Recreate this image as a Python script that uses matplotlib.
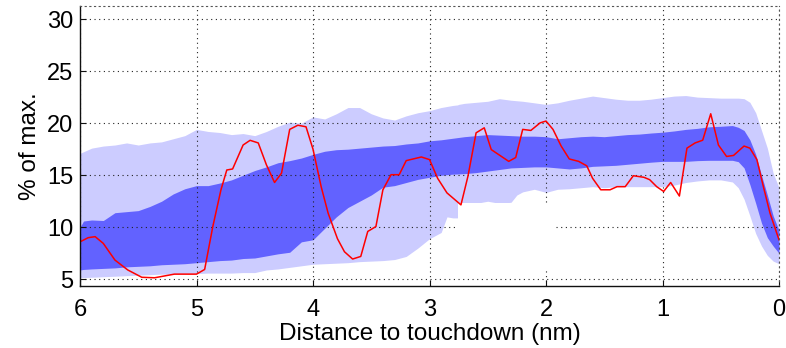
import matplotlib
matplotlib.use("Agg")
import matplotlib.pyplot as plt
from matplotlib.patches import Rectangle

plt.rcParams['font.family'] = ['Liberation Sans', 'DejaVu Sans']

# Outer (light) band: distance grid and its lower/upper bounds
light_x = [6.0, 5.9, 5.8, 5.7, 5.6, 5.5, 5.4, 5.3, 5.2, 5.1, 5.0, 4.9, 4.8, 4.7, 4.6,
           4.5, 4.4, 4.3, 4.2, 4.1, 4.0, 3.9, 3.8, 3.7, 3.6, 3.5, 3.4, 3.3, 3.2, 3.1,
           3.0, 2.9, 2.85, 2.8, 2.76, 2.75, 2.7, 2.6, 2.5, 2.4, 2.3, 2.25, 2.2, 2.1,
           2.0, 1.9, 1.8, 1.7, 1.6, 1.5, 1.4, 1.3, 1.2, 1.1, 1.0, 0.9, 0.8, 0.7, 0.6,
           0.5, 0.4, 0.35, 0.3, 0.25, 0.2, 0.15, 0.1, 0.05, 0.0]
light_upper = [17.1, 17.6, 17.8, 17.9, 18.1, 17.9, 18.1, 18.2, 18.5, 18.8, 19.4, 19.2,
               19.1, 18.9, 19.0, 18.8, 19.2, 19.7, 20.1, 20.0, 20.6, 20.4, 20.9, 21.5,
               21.5, 20.9, 20.5, 20.3, 20.7, 21.0, 21.2, 21.5, 21.6, 21.7, 21.75, 21.8,
               21.9, 22.0, 22.1, 22.35, 22.2, 22.15, 22.1, 21.95, 21.8, 21.95, 22.2,
               22.4, 22.6, 22.45, 22.3, 22.2, 22.2, 22.3, 22.45, 22.6, 22.65, 22.5,
               22.45, 22.4, 22.4, 22.4, 22.35, 22.0, 21.0, 19.3, 17.6, 15.2, 13.8]
light_lower = [5.15, 5.2, 5.25, 5.3, 5.35, 5.4, 5.45, 5.5, 5.5, 5.55, 5.55, 5.6, 5.6,
               5.6, 5.65, 5.65, 5.9, 6.0, 6.15, 6.3, 6.45, 6.5, 6.55, 6.6, 6.7, 6.75,
               6.8, 6.9, 7.2, 8.0, 8.9, 9.5, 11.0, 10.9, 10.9, 12.3, 12.3, 12.3, 12.5,
               12.3, 12.4, 13.1, 13.4, 13.65, 13.35, 13.65, 13.7, 13.8, 13.9, 13.8,
               13.9, 13.9, 13.9, 13.9, 13.9, 14.05, 14.3, 14.45, 14.55, 14.55, 14.35,
               13.8, 12.7, 11.1, 9.4, 8.2, 7.3, 6.75, 6.5]

# Inner (dark) band
dark_x = [6.0, 5.97, 5.9, 5.8, 5.7, 5.6, 5.5, 5.4, 5.3, 5.2, 5.1, 5.0, 4.9, 4.8, 4.7,
          4.6, 4.5, 4.4, 4.3, 4.2, 4.1, 4.0, 3.9, 3.8, 3.7, 3.6, 3.5, 3.4, 3.3, 3.2,
          3.1, 3.0, 2.9, 2.8, 2.7, 2.6, 2.5, 2.4, 2.3, 2.2, 2.1, 2.0, 1.9, 1.8, 1.7,
          1.6, 1.5, 1.4, 1.3, 1.2, 1.1, 1.0, 0.9, 0.8, 0.7, 0.6, 0.5, 0.4, 0.35, 0.3,
          0.25, 0.2, 0.15, 0.1, 0.05, 0.0]
dark_upper = [10.0, 10.6, 10.7, 10.65, 11.4, 11.5, 11.6, 12.0, 12.5, 13.2, 13.7, 14.0,
              14.0, 14.25, 14.55, 15.0, 15.45, 15.8, 16.2, 16.4, 16.65, 17.0, 17.3,
              17.45, 17.5, 17.6, 17.7, 17.8, 17.85, 18.0, 18.1, 18.3, 18.4, 18.55,
              18.7, 18.8, 18.9, 18.85, 18.8, 18.75, 18.75, 18.7, 18.5, 18.6, 18.7,
              18.75, 18.7, 18.8, 18.9, 18.95, 19.05, 19.13, 19.25, 19.4, 19.5, 19.65,
              19.7, 19.77, 19.6, 19.3, 18.4, 17.0, 15.0, 13.1, 11.1, 9.7]
dark_lower = [5.9, 5.95, 6.0, 6.05, 6.1, 6.2, 6.25, 6.3, 6.4, 6.45, 6.5, 6.6, 6.7, 6.8,
              6.85, 7.0, 7.05, 7.25, 7.45, 7.6, 8.6, 8.8, 9.9, 11.0, 11.9, 12.5, 13.1,
              13.85, 14.0, 14.3, 14.6, 14.8, 15.0, 15.1, 15.15, 15.25, 15.4, 15.55,
              15.7, 15.75, 15.8, 15.8, 15.7, 15.6, 15.7, 15.85, 15.9, 15.95, 16.05,
              16.15, 16.25, 16.33, 16.33, 16.33, 16.4, 16.43, 16.43, 16.43, 16.3,
              15.7, 14.1, 12.3, 10.4, 9.0, 8.2, 7.5]

# Single trace
trace_x = [6.0, 5.93, 5.87, 5.8, 5.7, 5.59, 5.47, 5.36, 5.19, 5.0, 4.93, 4.86, 4.79,
           4.74, 4.69, 4.6, 4.54, 4.47, 4.4, 4.33, 4.27, 4.2, 4.13, 4.06, 4.0, 3.93,
           3.87, 3.79, 3.73, 3.66, 3.59, 3.53, 3.46, 3.4, 3.33, 3.26, 3.2, 3.07, 3.0,
           2.93, 2.85, 2.73, 2.67, 2.6, 2.53, 2.47, 2.32, 2.26, 2.2, 2.13, 2.05, 2.0,
           1.94, 1.87, 1.8, 1.72, 1.65, 1.6, 1.53, 1.45, 1.39, 1.32, 1.25, 1.16, 1.11,
           1.05, 0.99, 0.93, 0.855, 0.79, 0.72, 0.655, 0.586, 0.52, 0.45, 0.39, 0.3,
           0.25, 0.19, 0.134, 0.077, 0.0]
trace_y = [8.6, 9.0, 9.1, 8.45, 6.85, 5.9, 5.2, 5.15, 5.5, 5.5, 5.95, 10.07, 13.6,
           15.5, 15.6, 17.9, 18.35, 18.1, 16.0, 14.3, 15.2, 19.4, 19.8, 19.65, 17.5,
           13.9, 11.35, 8.9, 7.65, 6.95, 7.2, 9.6, 10.07, 13.6, 15.05, 15.05, 16.4,
           16.75, 16.5, 14.7, 13.3, 12.15, 14.9, 19.07, 19.55, 17.46, 16.33, 16.7,
           19.4, 19.3, 20.03, 20.2, 19.4, 17.8, 16.56, 16.33, 15.9, 14.7, 13.6, 13.6,
           13.9, 13.9, 14.95, 14.8, 14.57, 13.9, 13.44, 14.3, 13.0, 17.6, 18.1, 18.36,
           20.9, 17.9, 16.8, 16.9, 17.8, 17.6, 16.5, 13.9, 11.35, 8.8]

x_ticks = [6, 5, 4, 3, 2, 1, 0]
y_ticks = [5, 10, 15, 20, 25, 30]

# Blank patch over part of the lower band (x0, x1, y0, y1)
blank_x = (1.92, 2.755)
blank_y = (6.1, 12.3)

fig = plt.figure(figsize=(7.86, 3.48), dpi=100)
ax = fig.add_axes([80 / 786, 62 / 348, 699 / 786, 280 / 348])

ax.fill_between(light_x, light_lower, light_upper, color='#CCCCFF', lw=0, zorder=1)
ax.fill_between(dark_x, dark_lower, dark_upper, color='#6262FF', lw=0, zorder=1.1)
ax.add_patch(Rectangle((blank_x[0], blank_y[0]), blank_x[1] - blank_x[0],
                       blank_y[1] - blank_y[0], facecolor='white', edgecolor='none',
                       zorder=1.7))
ax.plot(trace_x, trace_y, color='#FF0000', lw=1.1, zorder=2)

ax.set_xlim(6, 0)
ax.set_ylim(4.36, 31.25)
ax.set_xticks(x_ticks)
ax.set_yticks(y_ticks)
ax.set_axisbelow('line')
ax.grid(True, color='#222222', linestyle=(0, (1, 3.2)), linewidth=0.8)

for side in ('left', 'bottom'):
    ax.spines[side].set_color('#111111')
    ax.spines[side].set_linewidth(1.0)
for side in ('top', 'right'):
    ax.spines[side].set_color('#555555')
    ax.spines[side].set_linestyle((0, (1, 3.2)))
    ax.spines[side].set_linewidth(0.8)

ax.tick_params(direction='in', length=4, width=0.8, labelsize=17, color='#111111')
ax.tick_params(axis='x', pad=9)
ax.tick_params(axis='y', pad=5)

ax.set_xlabel('Distance to touchdown (nm)', fontsize=17.5, labelpad=2)
ax.set_ylabel('% of max.', fontsize=17.5, labelpad=4)

fig.savefig('out.png', dpi=100)
